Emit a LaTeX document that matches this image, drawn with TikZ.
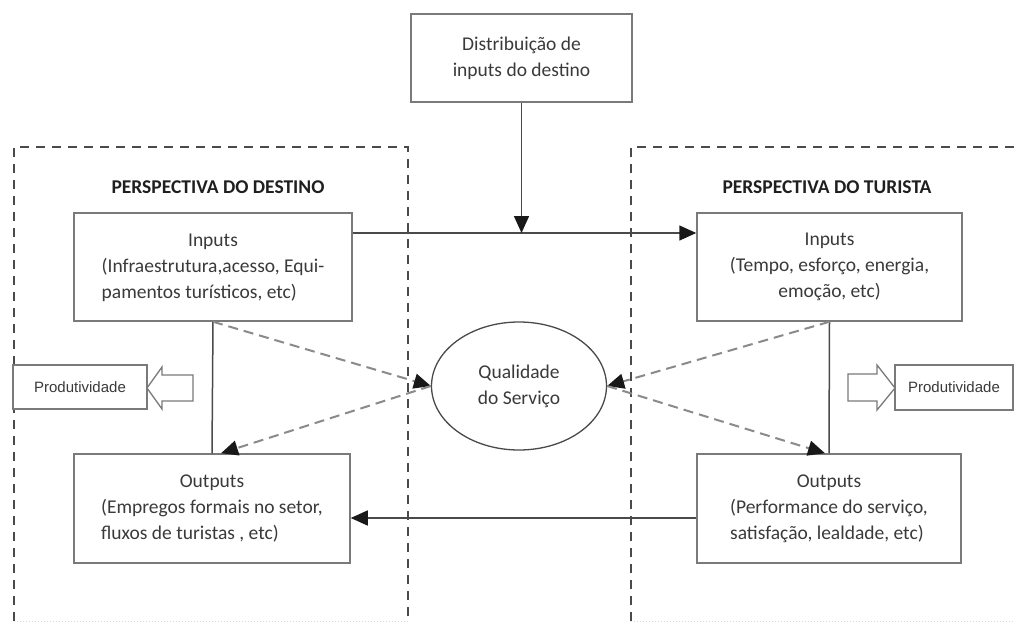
\documentclass[tikz,border=0pt]{standalone}
\usepackage{fontspec}
\setmainfont{Carlito}
\newfontfamily\arialf{Liberation Sans}
\usetikzlibrary{arrows.meta,shapes.geometric}
\definecolor{txt}{HTML}{3A3A3A}
\definecolor{boxc}{HTML}{7A7A7A}
\definecolor{linec}{HTML}{4A4A4A}
\definecolor{dashc}{HTML}{8A8A8A}
\begin{document}
\begin{tikzpicture}[x=1pt,y=-1pt,
  font=\fontsize{19.5}{26}\selectfont,
  box/.style={draw=boxc, line width=1.5pt, inner sep=0pt, text=txt, fill=white},
  persp/.style={draw=linec, line width=1.3pt, dash pattern=on 9pt off 7pt},
  faint/.style={draw=gray!30, line width=1pt, dotted},
  plain/.style={draw=linec, line width=1.5pt},
  flow/.style={draw=linec, line width=1.5pt, -{Triangle[length=17pt,width=15pt,color=black!90]}},
  qual/.style={draw=dashc, line width=2pt, dash pattern=on 10pt off 6pt, -{Triangle[length=17pt,width=15pt,color=black!90]}},
  hollow/.style={draw=boxc, line width=1.3pt, fill=white},
  title/.style={font=\bfseries\fontsize{19.5}{24}\selectfont, text=black!88},
  prod/.style={box, font=\arialf\fontsize{15}{17}\selectfont}]
\useasboundingbox (0,0) rectangle (1015,627);
\clip (0,0) rectangle (1015,627);
\fill[white] (0,0) rectangle (1015,627);

% perspective regions
\draw[persp] (14,621) -- (14,147) -- (408,147) -- (408,621);
\draw[faint] (14,621) -- (408,621);
\draw[persp] (631,621) -- (631,147) -- (1025,147);
\draw[faint] (631,621) -- (1015,621);

\node[title] (tD) at (218,187) {PERSPECTIVA DO DESTINO};
\node[title] (tT) at (827,187) {PERSPECTIVA DO TURISTA};

% boxes
\node[box, minimum width=221, minimum height=88, align=center] (top) at (521.5,58)
  {Distribuição de\\inputs do destino};
\node[box, minimum width=278, minimum height=108] (inL) at (213,267)
  {\begin{tabular}{@{}l@{}}\multicolumn{1}{@{}c@{}}{Inputs}\\(Infraestrutura,acesso, Equi-\\pamentos turísticos, etc)\end{tabular}};
\node[box, minimum width=265, minimum height=108, align=center] (inR) at (829.5,267)
  {Inputs\\(Tempo, esforço, energia,\\emoção, etc)};
\node[box, minimum width=276, minimum height=109] (outL) at (212,508.5)
  {\begin{tabular}{@{}l@{}}\multicolumn{1}{@{}c@{}}{Outputs}\\(Empregos formais no setor,\\fluxos de turistas , etc)\end{tabular}};
\node[box, minimum width=264, minimum height=109] (outR) at (829,508.5)
  {\begin{tabular}{@{}l@{}}\multicolumn{1}{@{}c@{}}{Outputs}\\(Performance do serviço,\\satisfação, lealdade, etc)\end{tabular}};
\node[ellipse, draw=linec, line width=1.3pt, minimum width=175, minimum height=128,
  inner sep=0pt, align=center, text=txt] (q) at (519,386) {Qualidade\\do Serviço};

% productivity
\node[prod, minimum width=134, minimum height=44] (pL) at (80,387) {Produtividade};
\node[prod, minimum width=118, minimum height=45] (pR) at (954,387.5) {Produtividade};
\draw[hollow] (147,388) -- (162,367) -- (162,375) -- (193,375) -- (193,401) -- (162,401) -- (162,409) -- cycle;
\draw[hollow] (895,388) -- (877,365) -- (877,374) -- (848,374) -- (848,401) -- (877,401) -- (877,410) -- cycle;

% connectors
\coordinate (h) at (0,233);
\coordinate (b) at (0,518);
\draw[flow] (inL.east |- h) -- (inR.west |- h);
\draw[flow] (top.south) -- (top.south |- h);
\draw[flow] (outR.west |- b) -- (outL.east |- b);
\draw[plain] (inL.south) -- (outL.north);
\draw[plain] (inR.south) -- (outR.north);
\draw[qual] (inL.south) -- (q.west);
\draw[qual] (q.west) -- ([xshift=9pt]outL.north);
\draw[qual] (inR.south) -- (q.east);
\draw[qual] (q.east) -- ([xshift=-4pt]outR.north);
\end{tikzpicture}
\end{document}
